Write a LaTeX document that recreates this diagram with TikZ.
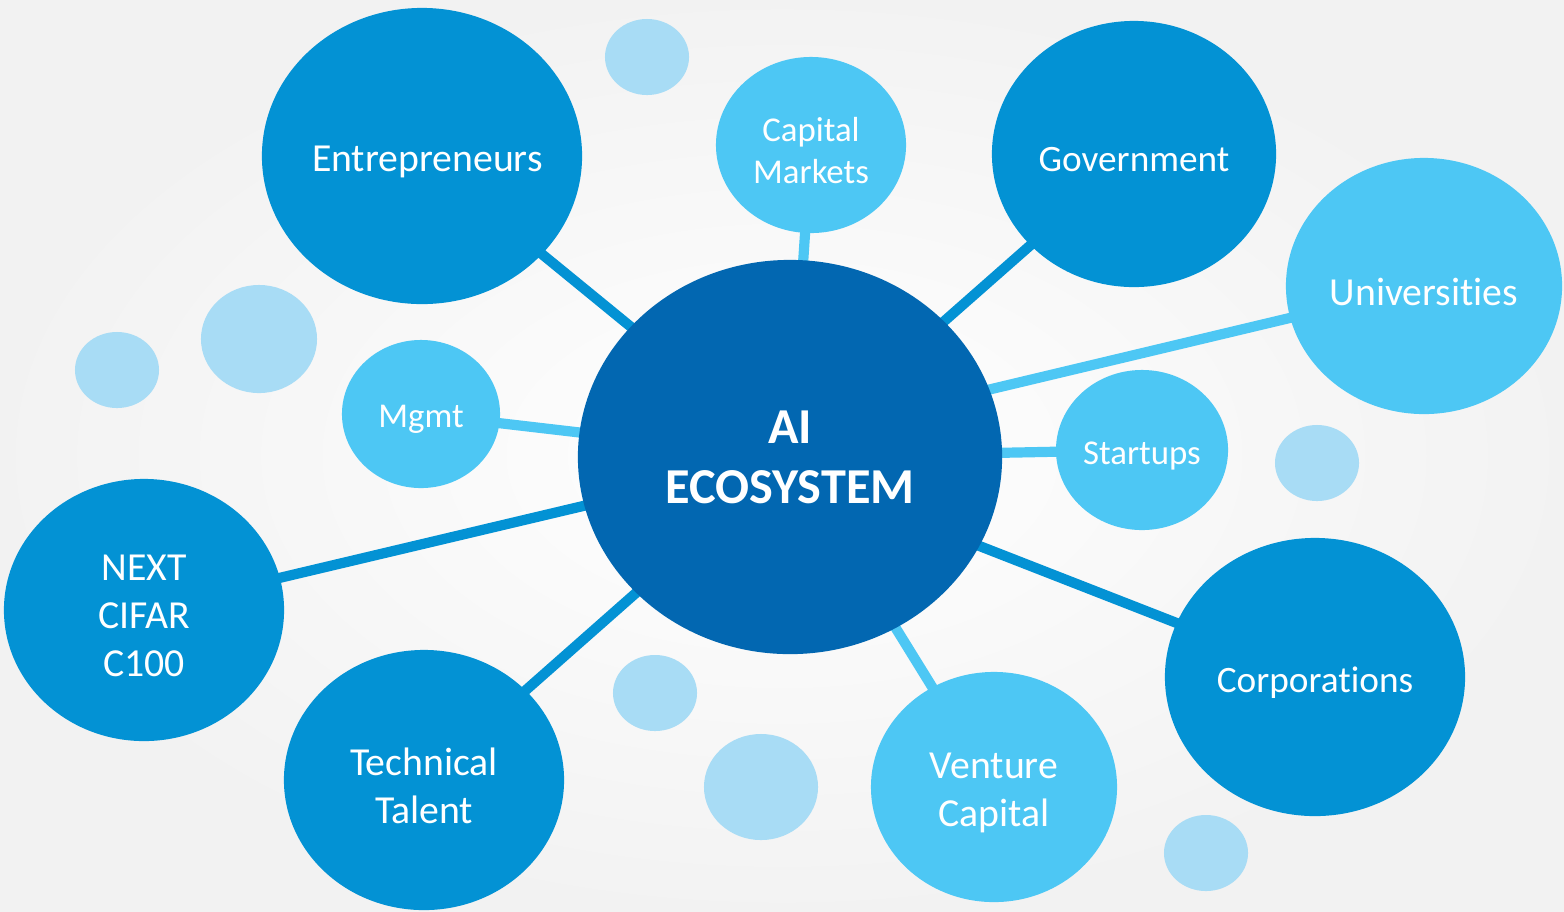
\documentclass[tikz,border=0pt]{standalone}
\usepackage{fontspec}
\setmainfont{Carlito}[Ligatures=NoCommon]
\usetikzlibrary{shapes.geometric,backgrounds}

\definecolor{coreblue}{HTML}{0267B1}
\definecolor{darkblue}{HTML}{0392D4}
\definecolor{lightblue}{HTML}{4DC7F4}
\definecolor{paleblue}{HTML}{A8DCF5}

\tikzset{
  bub/.style={ellipse, inner sep=0pt, text=white, align=center},
  bubsize/.style 2 args={minimum width=#1cm, minimum height=#2cm},
  bubcore/.style={bub, fill=coreblue, font=\fontsize{14.3}{17}\selectfont\bfseries},
  bubdark/.style={bub, fill=darkblue},
  bublight/.style={bub, fill=lightblue},
  bubpale/.style={bub, fill=paleblue},
  lbl/.style={text=white, align=center, inner sep=0pt, yshift=-1.6pt},
  lblbig/.style={lbl, font=\fontsize{11.3}{13.6}\selectfont},
  lblmid/.style={lbl, font=\fontsize{10.6}{13}\selectfont},
  lblsmall/.style={lbl, font=\fontsize{9.9}{11.9}\selectfont},
  linkdark/.style={draw=darkblue, line width=2.9pt},
  linklight/.style={draw=lightblue, line width=2.9pt}
}

\begin{document}
\begin{tikzpicture}[x=0.01cm,y=-0.01cm]
\useasboundingbox (0,0) rectangle (1564,911);
\begin{pgfonlayer}{background}
\shade[inner color=white, outer color=black!5] (0,0) rectangle (1564,911);
\end{pgfonlayer}

% pale dots
\node[bubpale, bubsize={0.84}{0.76}] (p1) at (647,57) {};
\node[bubpale, bubsize={1.16}{1.08}] (p2) at (259,339) {};
\node[bubpale, bubsize={0.84}{0.76}] (p3) at (117,370) {};
\node[bubpale, bubsize={0.84}{0.76}] (p4) at (1317,463) {};
\node[bubpale, bubsize={0.84}{0.76}] (p5) at (655,693) {};
\node[bubpale, bubsize={1.14}{1.06}] (p6) at (761,787) {};
\node[bubpale, bubsize={0.84}{0.76}] (p7) at (1206,853) {};

% the ecosystem
\node[bubcore, bubsize={4.24}{3.94}] (ai) at (790,457) {AI\\ECOSYSTEM};
\node[bubdark, bubsize={3.2}{2.96}, label={[lblbig, xshift=1.5pt]center:Entrepreneurs}] (ent) at (422,156) {};
\node[bublight, bubsize={1.9}{1.76}, label={[lblsmall]center:Capital\\Markets}] (cap) at (811,145) {};
\node[bubdark, bubsize={2.84}{2.66}, label={[lblmid]center:Government}] (gov) at (1134,154) {};
\node[bublight, bubsize={2.76}{2.56}, label={[lblbig]center:Universities}] (uni) at (1424,286) {};
\node[bublight, bubsize={1.72}{1.6}, label={[lblsmall]center:Startups}] (start) at (1142,450) {};
\node[bubdark, bubsize={3.0}{2.78}, label={[lblmid]center:Corporations}] (corp) at (1315,677) {};
\node[bublight, bubsize={2.46}{2.3}, label={[lblbig]center:Venture\\Capital}] (vc) at (994,787) {};
\node[bubdark, bubsize={2.8}{2.6}, label={[lblbig]center:Technical\\Talent}] (tech) at (424,780) {};
\node[bubdark, bubsize={2.8}{2.62}, label={[lblbig]center:NEXT\\CIFAR\\C100}] (next) at (144,610) {};
\node[bublight, bubsize={1.58}{1.48}, label={[lblsmall]center:Mgmt}] (mgmt) at (421,414) {};

\begin{pgfonlayer}{background}
\draw[linkdark] (ai.center) -- (ent.center);
\draw[linkdark] (ai.center) -- (gov.center);
\draw[linkdark] ([yshift=-0.15cm]ai.center) -- (corp.center);
\draw[linkdark] (ai.center) -- (tech.center);
\draw[linkdark] (ai.center) -- (next.center);
\draw[linklight] (ai.center) -- (cap.center);
\draw[linklight] ([yshift=0.2cm]ai.center) -- (uni.center);
\draw[linklight] (ai.center) -- (start.center);
\draw[linklight] (ai.center) -- (vc.center);
\draw[linklight] (ai.center) -- (mgmt.center);
\end{pgfonlayer}
\end{tikzpicture}
\end{document}
